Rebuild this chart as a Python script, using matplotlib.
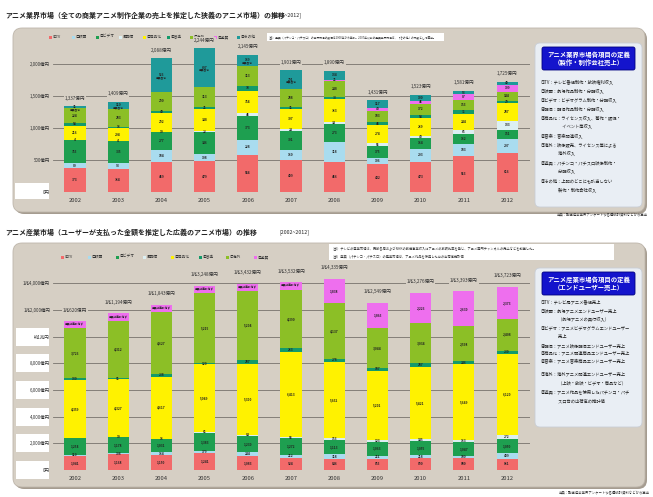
import numpy as np
import matplotlib.pyplot as plt
from matplotlib.patches import FancyBboxPatch, Rectangle

plt.rcParams['font.family'] = ['Noto Sans CJK JP', 'DejaVu Sans']

W, H = 653, 497
PANEL = "#D6CFC4"
BOXBG = "#E9EEF4"
HEADER = "#1414CC"

years = [2002, 2003, 2004, 2005, 2006, 2007, 2008, 2009, 2010, 2011, 2012]

# アニメ業界市場 (億円)
tv = [373, 364, 469, 479, 584, 499, 466, 432, 473, 563, 616]
movie = [80, 93, 184, 108, 228, 160, 318, 106, 203, 183, 207]
video = [355, 335, 277, 346, 373, 301, 273, 175, 164, 162, 151]
haishin = [4, 4, 10, 22, 46, 24, 34, 56, 42, 65, 133]
shohin = [216, 204, 292, 348, 354, 307, 363, 274, 269, 244, 287]
ongaku = [54, 16, 40, 21, 78, 31, 33, 46, 54, 71, 29]
kaigai = [224, 283, 290, 313, 313, 288, 248, 183, 172, 153, 144]
yukyo = [0, 0, 0, 0, 0, 0, 21, 42, 46, 87, 109]
sonota = [31, 110, 526, 607, 169, 291, 134, 117, 100, 53, 49]

# アニメ産業市場 (億円)
tv_u = [1041, 1168, 1150, 1241, 1083, 924, 846, 855, 890, 880, 861]
movie_u = [110, 108, 164, 179, 244, 212, 318, 211, 218, 180, 409]
video_u = [1254, 1178, 1031, 1383, 1230, 1272, 1113, 1063, 1055, 1047, 1050]
haishin_u = [0, 10, 16, 61, 84, 58, 153, 123, 145, 163, 272]
shohin_u = [4359, 4327, 4617, 5049, 5300, 6413, 5652, 5201, 5421, 5649, 6120]
ongaku_u = [130, 91, 238, 120, 287, 263, 278, 187, 287, 246, 230]
kaigai_u = [3726, 4312, 4627, 5215, 5204, 4390, 4137, 3044, 3034, 2598, 2408]
yukyo_u = [0, 0, 0, 0, 0, 0, 1838, 1865, 2226, 2630, 2373]
no_yukyo_gap = [550, 550, 550, 550, 550, 550]

labels_top = ["①TV", "②映画", "③ビデオ", "④配信", "⑤商品化", "⑥音楽", "⑦海外", "⑧遊興", "⑨その他"]
colors = ["#F26A6A", "#A9DCEF", "#1E9F50", "#DCEFF2", "#FFF200",
          "#139A6A", "#8CBF26", "#EE6FEE", "#1F9A9A"]

top_ticks = [0, 500, 1000, 1500, 2000]
top_ticklabels = ["0円", "500億円", "1,000億円", "1,500億円", "2,000億円"]
bot_ticks = [0, 2000, 4000, 6000, 8000, 10000, 12000, 14000]
bot_ticklabels = ["0円", "2,000億円", "4,000億円", "6,000億円", "8,000億円",
                  "約1兆円", "1兆2,000億円", "1兆4,000億円"]

def_top = [
    (82, "①TV：テレビ番組制作・放映権利収入"),
    (91, "②映画：劇場作品制作・分配収入"),
    (100, "③ビデオ：ビデオグラム制作・分配収入"),
    (109, "④配信：配信作品制作・分配収入"),
    (118, "⑤商品化：ライセンス収入、著作・販促・"),
    (126, "　　　　　イベント等収入"),
    (136, "⑥音楽：音楽関連収入"),
    (145, "⑦海外：映像販売、ライセンス等による"),
    (153, "　　　　海外収入"),
    (163, "⑧遊興：パチンコ・パチスロ映像制作・"),
    (171, "　　　　分配収入"),
    (181, "⑨その他：上記のどこにも該当しない"),
    (190, "　　　　製作・制作会社収入"),
]
def_bot = [
    (302, "①TV：テレビ局アニメ番組売上"),
    (311, "②映画：劇場アニメエンドユーザー売上"),
    (319, "　　　　（劇場アニメの興行収入）"),
    (328, "③ビデオ：アニメビデオグラムエンドユーザー"),
    (336, "　　　　売上"),
    (346, "④配信：アニメ映像配信エンドユーザー売上"),
    (353, "⑤商品化：アニメ関連商品エンドユーザー売上"),
    (361, "⑥音楽：アニメ音楽商品エンドユーザー売上"),
    (374, "⑦海外：海外アニメ関連エンドユーザー売上"),
    (383, "　　　　（上映・放映・ビデオ・商品など）"),
    (392, "⑧遊興：アニメ作品を使用したパチンコ・パチ"),
    (401, "　　　　スロ台の出荷高の推計値"),
]

fig = plt.figure(figsize=(W / 100, H / 100), dpi=100)
bg = fig.add_axes([0, 0, 1, 1])
bg.set_xlim(0, W)
bg.set_ylim(H, 0)
bg.axis("off")


def px_axes(x0, y0, x1, y1):
    a = fig.add_axes([x0 / W, 1 - y1 / H, (x1 - x0) / W, (y1 - y0) / H])
    a.set_facecolor("none")
    for s in a.spines.values():
        s.set_visible(False)
    return a


def panel(x0, y0, x1, y1):
    bg.add_patch(FancyBboxPatch((x0 + 2, y0 + 2), x1 - x0, y1 - y0,
                                boxstyle="round,pad=0,rounding_size=9",
                                fc="#A59C90", ec="none"))
    bg.add_patch(FancyBboxPatch((x0, y0), x1 - x0, y1 - y0,
                                boxstyle="round,pad=0,rounding_size=9",
                                fc=PANEL, ec="#BDB5AA", lw=0.6))


def def_box(y0, y1, head, items):
    bg.add_patch(FancyBboxPatch((535, y0), 107, y1 - y0,
                                boxstyle="round,pad=0,rounding_size=5",
                                fc=BOXBG, ec="#C9CED6", lw=0.6))
    bg.add_patch(FancyBboxPatch((542, y0 + 4), 93, 23,
                                boxstyle="round,pad=0,rounding_size=2",
                                fc=HEADER, ec="#000080", lw=0.6))
    bg.text(588.5, y0 + 15.5, head, ha="center", va="center", fontsize=4.6,
            color="white", fontweight="bold", linespacing=1.25)
    for y, t in items:
        bg.text(541, y, t, ha="left", va="center", fontsize=3.1, color="#222222")


def legend_row(x0, step, y, names, cols):
    for i, (n, c) in enumerate(zip(names, cols)):
        x = x0 + i * step
        bg.add_patch(Rectangle((x - 1.5, y - 1.5), 3, 3, fc=c, ec="none"))
        bg.text(x + 2.5, y, n, ha="left", va="center", fontsize=2.7, color="#333333")


def style_axes(ax, ticks, ticklabels, ymax):
    ax.set_xlim(-0.51, 10.53)
    ax.set_ylim(0, ymax)
    ax.set_yticks(ticks)
    ax.set_yticklabels(ticklabels, fontsize=3.2, color="#333333")
    ax.set_xticks(range(len(years)))
    ax.set_xticklabels([str(y) for y in years], fontsize=4.2, color="#333333")
    ax.tick_params(length=0, pad=2.2)
    ax.tick_params(axis="x", pad=4)
    for t in ticks:
        ax.axhline(t, color="#77726C", lw=0.6, zorder=1)


def draw_stack(ax, series, cols):
    x = np.arange(len(years))
    bottom = np.zeros(len(years))
    for vals, c in zip(series, cols):
        vals = np.array(vals, dtype=float)
        ax.bar(x, vals, 0.49, bottom=bottom, color=c, lw=0, zorder=3)
        for xi, b, v in zip(x, bottom, vals):
            if v > 0:
                ax.text(xi, b + v / 2, f"{int(v):,}", ha="center", va="center",
                        fontsize=2.3, fontweight="bold", color="#222222", zorder=4)
        bottom += vals
    return bottom


# ---------- top: アニメ業界市場 ----------
bg.text(5, 15, "アニメ業界市場（全ての商業アニメ制作企業の売上を推定した狭義のアニメ市場）の推移",
        ha="left", va="center", fontsize=5.0, fontweight="bold", color="#222222")
bg.text(272, 15.5, "[2002~2012]", ha="left", va="center", fontsize=3.8, color="#222222")
panel(13, 28, 645, 212)
legend_row(50, 23.6, 37, labels_top, colors)
bg.add_patch(Rectangle((267, 33), 177, 8, fc="white", ec="none"))
bg.text(269, 37, "注1）遊興（パチンコ・パチスロ）の業界市場の数値は2008年から集計。2007年以前の遊興業界市場は、「その他」の内数として算出。",
        ha="left", va="center", fontsize=2.0, color="#333333")
bg.add_patch(Rectangle((15, 183), 34, 16, fc="white", ec="none"))
def_box(43, 207, "アニメ業界市場各項目の定義\n（製作・制作会社売上）", def_top)
bg.text(648, 215, "出典：動画協会業界アンケートや各種統計資料などから算出",
        ha="right", va="center", fontsize=2.4, color="#333333")

ax1 = px_axes(53, 44, 530, 192)
style_axes(ax1, top_ticks, top_ticklabels, (192 - 44) / 64 * 1000)
tot1 = draw_stack(ax1, [tv, movie, video, haishin, shohin, ongaku, kaigai, yukyo, sonota], colors)
for i in range(6):
    base = tot1[i] - sonota[i]
    ax1.text(i, base + sonota[i] / 2 - 28, "遊興含む", ha="center", va="center",
             fontsize=2.0, fontweight="bold", color="#222222", zorder=4)
for i, t in enumerate(tot1):
    ax1.annotate(f"{int(t):,}億円", (i, t), xytext=(0, 6), textcoords="offset points",
                 ha="center", va="center", fontsize=3.3, color="#333333", zorder=5,
                 bbox=dict(fc=PANEL, ec="none", pad=0.6))

# ---------- bottom: アニメ産業市場 ----------
bg.text(5, 232, "アニメ産業市場（ユーザーが支払った金額を推定した広義のアニメ市場）の推移",
        ha="left", va="center", fontsize=5.0, fontweight="bold", color="#222222")
bg.text(280, 232.5, "[2002~2012]", ha="left", va="center", fontsize=3.8, color="#222222")
panel(13, 243, 645, 487)
legend_row(62, 27.6, 257, labels_top[:8], colors[:8])
bg.add_patch(Rectangle((329, 244), 285, 16, fc="white", ec="none"))
bg.text(333, 249, "注2）テレビの産業市場は、民放各局およびNHKの放送事業収入にアニメの放映比率を乗じ、アニメ専門チャンネルの売上などを加算した。",
        ha="left", va="center", fontsize=2.3, color="#333333")
bg.text(333, 256, "注3）遊興（パチンコ・パチスロ）の産業市場は、アニメ作品を使用した台の出荷高推計値",
        ha="left", va="center", fontsize=2.3, color="#333333")
for t in bot_ticks[:6]:
    yc = 470 - t / 2000 * 26.67
    bg.add_patch(Rectangle((16, yc - 9), 33, 18, fc="white", ec="none"))
def_box(268, 427, "アニメ産業市場各項目の定義\n（エンドユーザー売上）", def_bot)
bg.text(650, 493, "出典：動画協会業界アンケートや各種統計資料などから算出",
        ha="right", va="center", fontsize=2.4, color="#333333")

ax2 = px_axes(53, 270, 530, 470)
style_axes(ax2, bot_ticks, bot_ticklabels, (470 - 270) / 26.67 * 2000)
tot2 = draw_stack(ax2, [tv_u, movie_u, video_u, haishin_u, shohin_u, ongaku_u, kaigai_u, yukyo_u],
                  colors[:8])
n_gap = len(no_yukyo_gap)
ax2.bar(np.arange(n_gap), no_yukyo_gap, 0.49, bottom=tot2[:n_gap], color=colors[7], lw=0, zorder=3)
for i in range(n_gap):
    ax2.text(i, tot2[i] + no_yukyo_gap[i] / 2, "遊興は集計せず", ha="center", va="center",
             fontsize=2.0, fontweight="bold", color="#222222", zorder=4)
for i, t in enumerate(tot2):
    top = t + (no_yukyo_gap[i] if i < n_gap else 0)
    v = int(t)
    lab = f"1兆{v - 10000:,}億円" if v >= 10000 else f"{v:,}億円"
    ax2.annotate(lab, (i, top), xytext=(0, 8), textcoords="offset points",
                 ha="center", va="center", fontsize=3.3, color="#333333", zorder=5,
                 bbox=dict(fc=PANEL, ec="none", pad=0.6))

fig.savefig("out.png", dpi=100, facecolor="white")
